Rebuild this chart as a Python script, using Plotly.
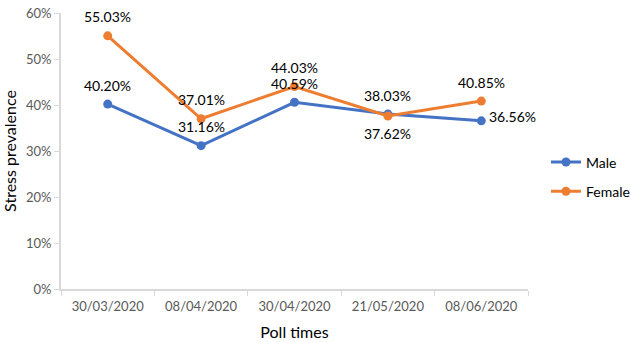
import plotly.graph_objects as go

# Poll dates and stress prevalence (%) by gender
poll_times = ["30/03/2020", "08/04/2020", "30/04/2020", "21/05/2020", "08/06/2020"]
male = [40.20, 31.16, 40.59, 38.03, 36.56]
female = [55.03, 37.01, 44.03, 37.62, 40.85]
y_ticks = [0, 10, 20, 30, 40, 50, 60]

# Where each value label sits relative to its point
male_label_side = ["above", "above", "above", "above", "right"]
female_label_side = ["above", "above", "above", "below", "above"]

BLUE = "#4472C4"
ORANGE = "#ED7D31"
FONT = "Lato"

fig = go.Figure()
for name, vals, color, group in [("Male", male, BLUE, "m"), ("Female", female, ORANGE, "f")]:
    fig.add_trace(go.Scatter(
        x=poll_times, y=vals, name=name, mode="lines+markers",
        legendgroup=group,
        line=dict(color=color, width=3), marker=dict(color=color, size=9),
        cliponaxis=False,
    ))

annotations = []
for vals, sides in [(male, male_label_side), (female, female_label_side)]:
    for cat, v, side in zip(poll_times, vals, sides):
        a = dict(x=cat, y=v, xref="x", yref="y", text=f"{v:.2f}%", showarrow=False,
                 font=dict(family=FONT, size=14, color="#000000"))
        if side == "above":
            a.update(yshift=19)
        elif side == "below":
            a.update(yshift=-18)
        else:
            a.update(xanchor="left", xshift=6, yshift=4)
        annotations.append(a)

fig.update_layout(
    width=631, height=342,
    margin=dict(l=61, r=103, t=13, b=53, autoexpand=False),
    paper_bgcolor="white", plot_bgcolor="white",
    font=dict(family=FONT, color="#000000"),
    showlegend=True,
    legend=dict(x=1.0385, y=0.406, xanchor="left", yanchor="middle",
                font=dict(family=FONT, size=14, color="#000000"),
                itemwidth=30, tracegroupgap=8, bgcolor="rgba(0,0,0,0)"),
    annotations=annotations,
    xaxis=dict(
        type="category", range=[-0.5, 4.5], automargin=False,
        showline=True, linecolor="#d9d9d9", linewidth=2,
        ticks="outside", tickson="boundaries", ticklen=5, tickcolor="#d9d9d9",
        ticklabelstandoff=4,
        showgrid=False, zeroline=False,
        tickfont=dict(family=FONT, size=13, color="#595959"),
        title=dict(text="Poll times", font=dict(family=FONT, size=16, color="#000000"), standoff=14),
    ),
    yaxis=dict(
        range=[0, 60], tickvals=y_ticks, ticktext=[f"{t}%" for t in y_ticks],
        automargin=False,
        showline=True, linecolor="#d9d9d9", linewidth=2,
        ticks="outside", ticklen=5, tickcolor="#d9d9d9",
        showgrid=False, zeroline=False,
        tickfont=dict(family=FONT, size=13, color="#595959"),
        title=dict(text="Stress prevalence", font=dict(family=FONT, size=16, color="#000000"), standoff=10),
    ),
)

fig.write_html("out.html")
